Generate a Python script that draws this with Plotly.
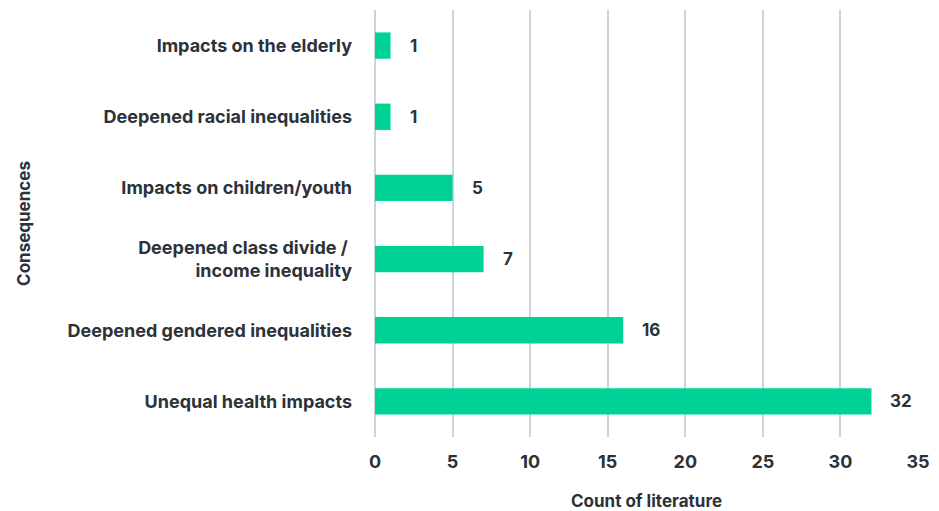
import plotly.graph_objects as go

# Categories listed bottom-to-top as drawn on the y axis
categories = [
    "Unequal health impacts",
    "Deepened gendered inequalities",
    "Deepened class divide / <br>income inequality",
    "Impacts on children/youth",
    "Deepened racial inequalities",
    "Impacts on the elderly",
]
counts = [32, 16, 7, 5, 1, 1]
x_ticks = [0, 5, 10, 15, 20, 25, 30, 35]

BAR = "#00d296"
TEXT = "#2b3239"
GRID = "#c9d4dd"
FONT = "Inter"
SIZE = 18

fig = go.Figure(
    go.Bar(
        x=counts,
        y=categories,
        orientation="h",
        marker=dict(color=BAR, line=dict(width=0)),
        width=0.37,
        hoverinfo="skip",
    )
)

for c, v in zip(categories, counts):
    fig.add_annotation(
        x=v, y=c, text=f"<b>{v}</b>", showarrow=False,
        xanchor="left", xshift=17,
        font=dict(family=FONT, size=SIZE - 1, color=TEXT),
    )

fig.update_layout(
    width=939, height=511,
    margin=dict(l=375, r=21, t=10, b=74),
    paper_bgcolor="white", plot_bgcolor="white",
    showlegend=False,
    font=dict(family=FONT, size=SIZE, color=TEXT),
)
fig.update_xaxes(
    automargin=False,
    range=[0, 35], tickvals=x_ticks,
    ticktext=[f"<b>{t}</b>" for t in x_ticks],
    showgrid=True, gridcolor=GRID, gridwidth=2,
    zeroline=True, zerolinecolor=GRID, zerolinewidth=2,
    showline=False, ticks="", ticklabelstandoff=12,
    title=dict(text="<b>Count of literature</b>", standoff=26,
               font=dict(family=FONT, size=SIZE - 1, color=TEXT)),
    tickfont=dict(family=FONT, size=SIZE, color=TEXT),
)
fig.update_yaxes(
    automargin=False,
    categoryorder="array", categoryarray=categories,
    range=[-0.5, 5.5],
    ticktext=[f"<b>{c}</b>" for c in categories], tickvals=categories,
    showgrid=False, zeroline=False, showline=False, ticks="",
    ticklabelstandoff=22,
    title=dict(text="<b>Consequences</b>", standoff=32,
               font=dict(family=FONT, size=SIZE - 1, color=TEXT)),
    tickfont=dict(family=FONT, size=SIZE, color=TEXT),
)

fig.write_html("out.html")
